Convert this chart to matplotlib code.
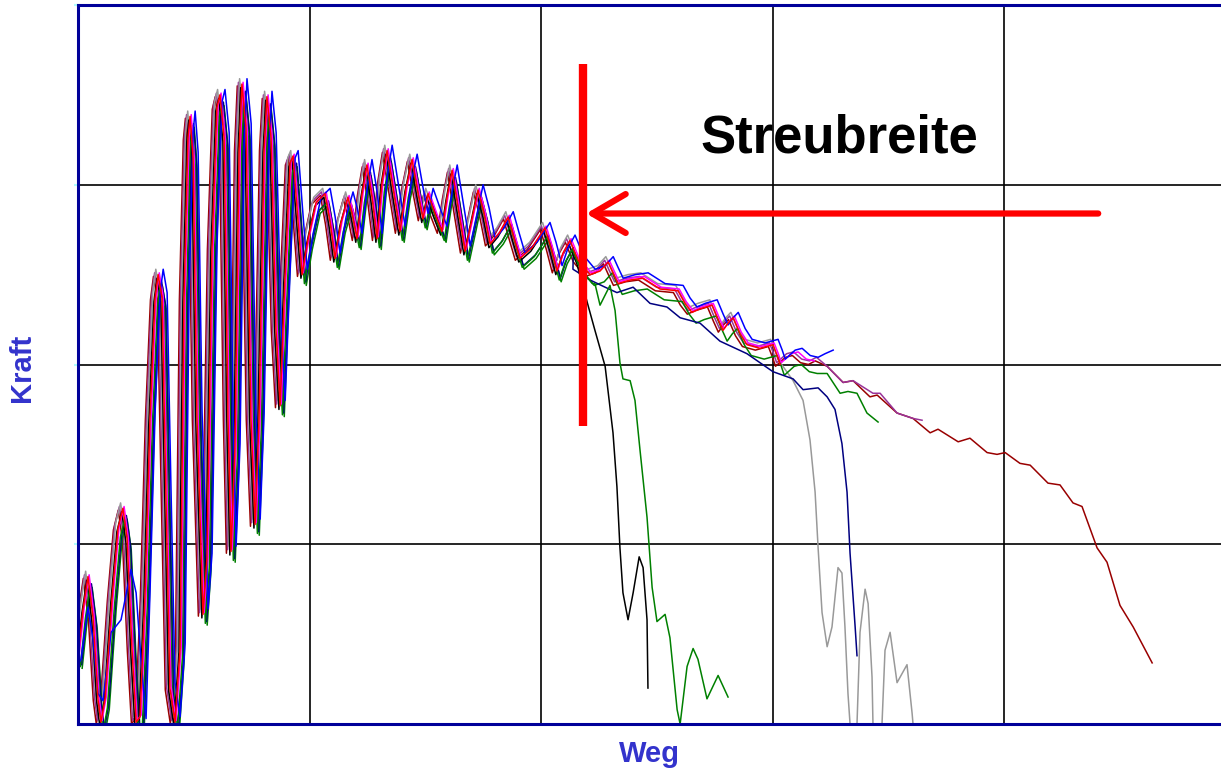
import matplotlib
matplotlib.use("Agg")
import matplotlib.pyplot as plt
import numpy as np

# Shared trace of the bundle (Weg in mm, Kraft in kN)
BUNDLE_X = [0.00, 0.22, 0.43, 0.65, 0.86, 0.99, 1.17, 1.47, 1.73, 1.94,
            2.12, 2.33, 2.51, 2.68, 2.89, 3.11, 3.33, 3.46, 3.63, 3.80,
            3.97, 4.19, 4.41, 4.58, 4.75, 4.84, 4.97, 5.14, 5.40, 5.57,
            5.79, 6.00, 6.13, 6.31, 6.48, 6.61, 6.78, 6.96, 7.08, 7.26,
            7.47, 7.65, 7.82, 8.04, 8.16, 8.34, 8.55, 8.73, 8.94, 9.16,
            9.29, 9.46, 9.68, 9.94, 10.28, 10.67, 10.89, 11.10, 11.36, 11.66,
            11.84, 12.05, 12.27, 12.48, 12.70, 12.92, 13.13, 13.35, 13.61, 13.91,
            14.17, 14.43, 14.69, 14.90, 15.12, 15.42, 15.72, 15.94, 16.16, 16.42,
            16.72, 17.02, 17.28, 17.54, 17.80, 18.19, 18.58, 18.84, 19.09, 19.61,
            20.17, 20.43, 20.69, 20.95, 21.25, 21.60, 22.12, 22.55, 22.90, 23.11,
            23.33, 23.85, 24.41, 25.14, 25.92, 26.22, 26.52, 26.87, 27.39, 27.65,
            27.86, 28.08, 28.30, 28.60, 28.90, 29.46, 30.02, 30.20, 30.33, 30.76,
            31.06, 31.41, 31.75, 32.05, 32.40]
BUNDLE_Y = [0.36, 0.63, 0.81, 0.58, 0.13, 0.00, 0.13, 0.69, 1.08, 1.19,
            1.02, 0.41, 0.00, 0.03, 0.69, 1.69, 2.36, 2.49, 2.36, 1.25,
            0.19, 0.00, 0.41, 2.36, 3.25, 3.37, 3.14, 1.69, 0.60, 0.91,
            2.64, 3.42, 3.49, 3.25, 1.69, 0.95, 1.52, 3.19, 3.55, 3.30,
            1.69, 1.10, 1.69, 3.19, 3.48, 3.25, 2.19, 1.76, 2.47, 3.11,
            3.15, 2.86, 2.49, 2.69, 2.89, 2.94, 2.78, 2.58, 2.78, 2.92,
            2.83, 2.69, 2.94, 3.10, 2.92, 2.69, 3.00, 3.18, 2.97, 2.73,
            2.97, 3.13, 2.94, 2.80, 2.94, 2.83, 2.73, 2.92, 3.07, 2.86,
            2.62, 2.80, 2.96, 2.83, 2.66, 2.72, 2.81, 2.69, 2.58, 2.64,
            2.75, 2.64, 2.51, 2.61, 2.68, 2.57, 2.49, 2.51, 2.56, 2.50,
            2.44, 2.46, 2.47, 2.41, 2.40, 2.33, 2.28, 2.30, 2.32, 2.24,
            2.18, 2.22, 2.25, 2.16, 2.10, 2.08, 2.10, 2.04, 1.99, 2.04,
            2.05, 2.01, 2.00, 2.02, 2.04]

# blue curve starts differently
BLUE_START_X = [0.00, 0.13, 0.43, 0.65, 0.86, 1.08, 1.43, 1.86, 2.29, 2.51, 2.72, 2.94]
BLUE_START_Y = [0.33, 0.36, 0.65, 0.47, 0.17, 0.13, 0.51, 0.58, 0.86, 0.73, 0.36, 0.03]

# individual tails after each curve leaves the bundle
NAVY_X = [21.38, 22.12, 22.77, 23.28, 23.98, 24.71, 25.44, 26.01, 26.87, 27.73,
          28.90, 30.02, 30.89, 31.32, 31.97, 32.36, 32.70, 33.00, 33.22, 33.35,
          33.57, 33.65]
NAVY_Y = [2.53, 2.47, 2.43, 2.40, 2.43, 2.34, 2.32, 2.26, 2.23, 2.13,
          2.06, 1.96, 1.92, 1.86, 1.87, 1.82, 1.75, 1.56, 1.29, 0.95,
          0.54, 0.38]
GRAY_X = [30.89, 31.32, 31.62, 31.84, 31.97, 32.14, 32.36, 32.57, 32.83, 33.00,
          33.13, 33.26, 33.35, 33.65, 33.78, 34.00, 34.13, 34.30, 34.34, 34.73,
          34.86, 35.08, 35.38, 35.81, 36.03, 36.07]
GRAY_Y = [1.91, 1.80, 1.58, 1.29, 0.98, 0.62, 0.43, 0.54, 0.87, 0.84,
          0.54, 0.17, 0.00, 0.00, 0.51, 0.75, 0.67, 0.26, 0.00, 0.00,
          0.41, 0.51, 0.23, 0.33, 0.06, 0.00]
GREEN_A_X = [22.33, 22.55, 22.98, 23.20, 23.41, 23.54, 23.85, 24.06, 24.28, 24.58,
             24.80, 25.01, 25.36, 25.57, 25.88, 26.01, 26.31, 26.57, 26.78, 27.17,
             27.65, 28.08]
GREEN_A_Y = [2.45, 2.33, 2.44, 2.30, 2.01, 1.92, 1.91, 1.80, 1.52, 1.15,
             0.76, 0.57, 0.61, 0.48, 0.08, 0.00, 0.32, 0.42, 0.36, 0.14,
             0.27, 0.15]
BLACK_X = [22.03, 22.33, 22.77, 23.11, 23.28, 23.41, 23.54, 23.76, 23.98, 24.24,
           24.41, 24.58, 24.62]
BLACK_Y = [2.33, 2.19, 1.99, 1.62, 1.32, 0.98, 0.73, 0.58, 0.73, 0.93,
           0.87, 0.58, 0.20]
GREEN_B_X = [32.36, 32.92, 33.26, 33.65, 34.08, 34.56]
GREEN_B_Y = [1.95, 1.84, 1.85, 1.84, 1.73, 1.68]
PURPLE_X = [32.36, 33.05, 33.48, 34.34, 34.65, 35.38, 36.07, 36.46]
PURPLE_Y = [1.99, 1.90, 1.91, 1.84, 1.84, 1.73, 1.70, 1.69]
DARKRED_X = [32.36, 33.05, 33.48, 34.21, 34.52, 35.38, 36.07, 36.81, 37.15, 38.02,
             38.53, 39.27, 39.70, 40.05, 40.69, 41.13, 41.90, 42.42, 42.98, 43.37,
             44.02, 44.45, 45.01, 45.58, 46.40]
DARKRED_Y = [1.99, 1.90, 1.91, 1.82, 1.83, 1.73, 1.70, 1.62, 1.64, 1.57,
             1.59, 1.51, 1.50, 1.51, 1.45, 1.44, 1.34, 1.33, 1.23, 1.21,
             0.98, 0.90, 0.66, 0.54, 0.34]

# colour, last bundle x used, small phase shift (dx, dy), tail
curves = [
    ("#990000", 32.05, -0.20, 0.00, DARKRED_X, DARKRED_Y),
    ("#993399", 32.05, -0.15, 0.02, PURPLE_X, PURPLE_Y),
    ("#999999", 30.33, -0.10, 0.04, GRAY_X, GRAY_Y),
    ("#008000", 31.75, 0.18, -0.05, GREEN_B_X, GREEN_B_Y),
    ("#000080", 21.25, 0.15, -0.03, NAVY_X, NAVY_Y),
    ("#000000", 21.60, -0.05, -0.01, BLACK_X, BLACK_Y),
    ("#008000", 22.12, 0.10, -0.04, GREEN_A_X, GREEN_A_Y),
    ("#ff00ff", 31.75, 0.05, 0.02, [], []),
    ("#0000ff", 32.40, 0.22, 0.04, [], []),
    ("#ff0000", 30.33, 0.00, 0.01, [], []),
]

bx = np.array(BUNDLE_X)
by = np.array(BUNDLE_Y)

fig = plt.figure(figsize=(12.21, 7.71), dpi=100)
ax = fig.add_axes([78 / 1221, 47 / 771, 1157.5 / 1221, 719 / 771])

for color, cut, dx, dy, tx, ty in curves:
    m = bx <= cut
    xs = list(bx[m] + dx)
    ys = list(by[m] + dy)
    if color == "#0000ff":
        keep = [i for i, v in enumerate(xs) if v >= 3.1]
        xs = BLUE_START_X + [xs[i] for i in keep]
        ys = BLUE_START_Y + [ys[i] for i in keep]
    ax.plot(xs + list(tx), ys + list(ty), color=color, linewidth=1.1)

ax.set_xlim(0, 50)
ax.set_ylim(0, 4)
ax.set_xticks([10, 20, 30, 40])
ax.set_yticks([1, 2, 3, 4])
ax.grid(True, color="black", linewidth=1.2)
ax.set_axisbelow(True)
ax.set_xticklabels([])
ax.set_yticklabels([])
ax.tick_params(axis="x", length=0)
ax.tick_params(axis="y", length=3, color="#b0ffff", width=1.5)
for side in ["left", "bottom", "top"]:
    ax.spines[side].set_color("#000099")
    ax.spines[side].set_linewidth(2.2)
ax.spines["right"].set_visible(False)

# Streubreite marker
ax.plot([21.82, 21.82], [1.66, 3.67], color="#ff0000", linewidth=6, solid_capstyle="butt")
ax.annotate("", xy=(21.95, 2.84), xytext=(44.07, 2.84),
            arrowprops=dict(arrowstyle="->, head_length=1.2, head_width=0.7",
                            color="#ff0000", lw=4.5, mutation_scale=20,
                            shrinkA=0, shrinkB=0))
ax.text(32.9, 3.26, "Streubreite", fontsize=38, fontweight="bold",
        family="Liberation Sans", ha="center", va="center", color="black")

fig.text(22 / 1221, 1 - 368 / 771, "Kraft", rotation=90, fontsize=21,
         fontweight="bold", family="Liberation Sans", color="#3333cc",
         ha="center", va="center")
fig.text(649 / 1221, 1 - 754 / 771, "Weg", fontsize=21, fontweight="bold",
         family="Liberation Sans", color="#3333cc", ha="center", va="center")

fig.savefig("out.png", dpi=100)
